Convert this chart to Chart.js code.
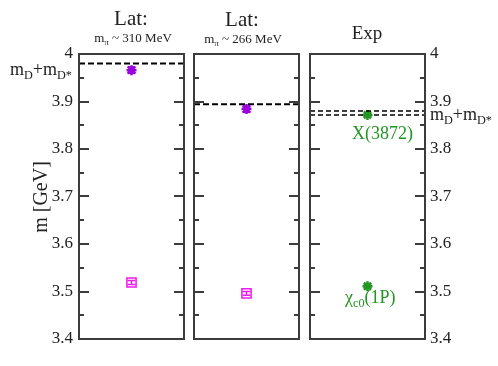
<!DOCTYPE html>
<html>
<head>
<meta charset="utf-8">
<script src="https://cdn.jsdelivr.net/npm/chart.js"></script>
<style>
  body { margin: 0; background: #fff; }
  #wrap { position: relative; width: 498px; height: 366px; font-family: "Liberation Serif", serif; color: #222; }
  #wrap canvas { position: absolute; left: 0; top: 0; }
  .lbl { position: absolute; white-space: nowrap; line-height: 1; }
  .c { transform: translateX(-50%); }
  sub { font-size: 0.68em; vertical-align: -0.32em; line-height: 0; }
  .green { color: #239523; }
</style>
</head>
<body>
<div id="wrap">
  <canvas id="p1" width="498" height="366"></canvas>
  <canvas id="p2" width="498" height="366"></canvas>
  <canvas id="p3" width="498" height="366"></canvas>

  <div class="lbl c" style="left:131px; top:8px; font-size:21px;">Lat:</div>
  <div class="lbl c" style="left:133px; top:31px; font-size:13px;">m<sub>π</sub> ~ 310 MeV</div>
  <div class="lbl c" style="left:242px; top:9px; font-size:21px;">Lat:</div>
  <div class="lbl c" style="left:243px; top:32px; font-size:13px;">m<sub>π</sub> ~ 266 MeV</div>
  <div class="lbl c" style="left:367px; top:23px; font-size:19px;">Exp</div>

  <div class="lbl" style="left:40px; top:197px; font-size:20px; transform: translate(-50%, -50%) rotate(-90deg);">m [GeV]</div>

  <div class="lbl" style="left:10px; top:60px; font-size:18px;">m<sub>D</sub>+m<sub>D*</sub></div>
  <div class="lbl" style="left:430px; top:105px; font-size:18px;">m<sub>D</sub>+m<sub>D*</sub></div>

  <div class="lbl green" style="left:352px; top:124px; font-size:18px;">X(3872)</div>
  <div class="lbl green" style="left:345px; top:288px; font-size:18px;">χ<sub>c0</sub>(1P)</div>
</div>

<script>
// y range of all three panels (GeV)
const yMin = 3.4;
const yMax = 4.0;
const yStep = 0.05;

// lattice panels: m_pi ~ 310 MeV, m_pi ~ 266 MeV
const pionMasses = [310, 266];
const latThresholds = [3.980, 3.894];
const latUpperMass = [3.966, 3.884];
const latUpperErr = [0.006, 0.006];
const latLowerMass = [3.519, 3.496];
const latLowerErr = [0.004, 0.004];

// experiment panel
const expThresholds = [3.8717, 3.8799];
const expStates = ["X(3872)", "χc0(1P)"];
const expMass = [3.8717, 3.511];
const expErr = [0.002, 0.002];

const purple = "#9a00dc";
const magenta = "#ee1aee";
const green = "#239523";

const isMajor = (v) => Math.round(v * 100) % 10 === 0;

// box around the plot area + inward ticks on both sides
const framePlugin = {
  id: "frame",
  afterDraw(chart) {
    const { ctx, chartArea: a } = chart;
    const y = chart.scales.y;
    ctx.save();
    ctx.strokeStyle = "#3c3c3c";
    ctx.lineWidth = 2;
    ctx.strokeRect(a.left, a.top, a.right - a.left, a.bottom - a.top);
    y.ticks.forEach((t) => {
      const py = Math.round(y.getPixelForValue(t.value));
      if (py <= a.top + 1 || py >= a.bottom - 1) return;
      const len = isMajor(t.value) ? 10 : 5;
      ctx.beginPath();
      ctx.moveTo(a.left, py);
      ctx.lineTo(a.left + len, py);
      ctx.moveTo(a.right, py);
      ctx.lineTo(a.right - len, py);
      ctx.stroke();
    });
    ctx.restore();
  },
};

// vertical error bars with caps
const errorBarPlugin = {
  id: "errorBars",
  afterDatasetsDraw(chart) {
    const { ctx } = chart;
    const y = chart.scales.y;
    chart.data.datasets.forEach((ds, i) => {
      if (!ds.errors) return;
      const meta = chart.getDatasetMeta(i);
      meta.data.forEach((pt, j) => {
        const v = ds.data[j].y;
        const top = y.getPixelForValue(v + ds.errors[j]);
        const bot = y.getPixelForValue(v - ds.errors[j]);
        const w = ds.capWidth || 4;
        ctx.save();
        ctx.strokeStyle = ds.borderColor;
        ctx.lineWidth = ds.capLine || 1.5;
        ctx.beginPath();
        ctx.moveTo(pt.x, top);
        ctx.lineTo(pt.x, bot);
        ctx.moveTo(pt.x - w, top);
        ctx.lineTo(pt.x + w, top);
        ctx.moveTo(pt.x - w, bot);
        ctx.lineTo(pt.x + w, bot);
        ctx.stroke();
        ctx.restore();
      });
    });
  },
};

function thresholdLine(value, width, dash) {
  return {
    type: "line",
    data: [{ x: 0, y: value }, { x: 1, y: value }],
    borderColor: "#000",
    borderWidth: width,
    borderDash: dash,
    pointRadius: 0,
  };
}

function makePanel(id, datasets, padLeft, padRight, axis) {
  const yScale = {
    min: yMin,
    max: yMax,
    position: axis === "right" ? "right" : "left",
    grid: { display: false, drawTicks: false },
    border: { display: false },
    ticks: {
      display: axis !== "none",
      stepSize: yStep,
      autoSkip: false,
      padding: axis === "right" ? 5 : 6,
      color: "#222",
      font: { family: "Liberation Serif", size: 17 },
      callback: (v) => (isMajor(v) ? String(Math.round(v * 10) / 10) : ""),
    },
    afterFit: (scale) => {
      scale.width = axis === "left" ? 79 : axis === "right" ? 73 : 0;
    },
  };
  return new Chart(document.getElementById(id), {
    type: "scatter",
    data: { datasets },
    options: {
      responsive: false,
      animation: false,
      layout: { padding: { left: padLeft, right: padRight, top: 54, bottom: 27 } },
      plugins: { legend: { display: false }, tooltip: { enabled: false } },
      scales: {
        x: { type: "linear", min: 0, max: 1, display: false },
        y: yScale,
      },
    },
    plugins: [errorBarPlugin, framePlugin],
  });
}

function latDatasets(k) {
  return [
    thresholdLine(latThresholds[k], 2, [6, 3]),
    {
      data: [{ x: 0.5, y: latUpperMass[k] }],
      pointStyle: "star",
      pointRadius: 5,
      borderColor: purple,
      backgroundColor: purple,
      borderWidth: 2.5,
      errors: [latUpperErr[k]],
      capWidth: 4,
      capLine: 2,
    },
    {
      data: [{ x: 0.5, y: latLowerMass[k] }],
      pointStyle: "rect",
      pointRadius: 6.5,
      borderColor: magenta,
      backgroundColor: "rgba(0,0,0,0)",
      borderWidth: 1.5,
      errors: [latLowerErr[k]],
      capWidth: 4,
      capLine: 1.5,
    },
  ];
}

makePanel("p1", latDatasets(0), 0, 498 - 184, "left");
makePanel("p2", latDatasets(1), 194, 498 - 299, "none");
makePanel(
  "p3",
  [
    ...expThresholds.map((t) => thresholdLine(t, 1.5, [5, 3])),
    {
      data: expMass.map((m) => ({ x: 0.5, y: m })),
      pointStyle: "star",
      pointRadius: 5,
      borderColor: green,
      backgroundColor: green,
      borderWidth: 2.5,
      errors: expErr,
      capWidth: 4,
      capLine: 2,
    },
  ],
  310,
  0,
  "right"
);
</script>
</body>
</html>
